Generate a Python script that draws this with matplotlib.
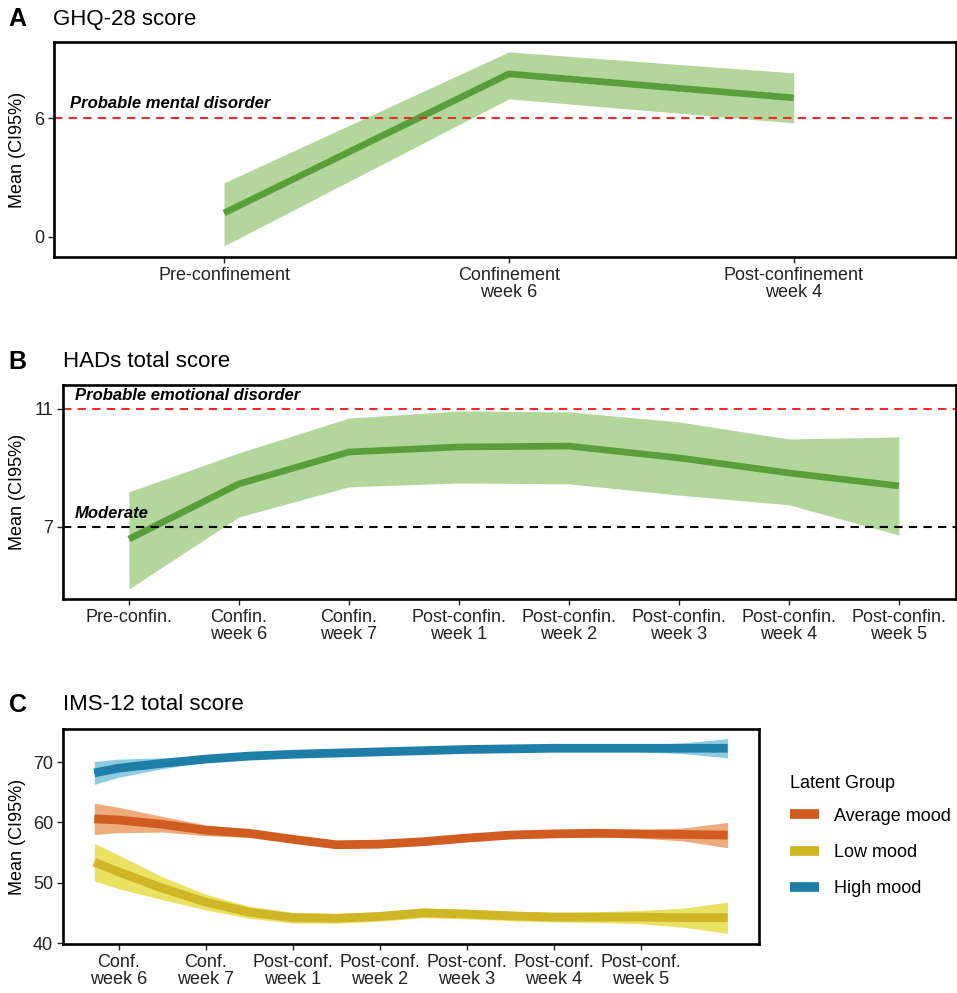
import matplotlib
matplotlib.use("Agg")
import matplotlib.pyplot as plt
from matplotlib.lines import Line2D
import numpy as np

plt.rcParams['font.family'] = ['Liberation Sans', 'DejaVu Sans']

# panel A: GHQ-28
ghq_labels = ["Pre-confinement", "Confinement\nweek 6", "Post-confinement\nweek 4"]
ghq_mean = [1.21, 8.23, 7.02]
ghq_low = [-0.45, 6.97, 5.76]
ghq_high = [2.73, 9.34, 8.28]

# panel B: HADs
hads_labels = ["Pre-confin.", "Confin.\nweek 6", "Confin.\nweek 7", "Post-confin.\nweek 1",
               "Post-confin.\nweek 2", "Post-confin.\nweek 3", "Post-confin.\nweek 4",
               "Post-confin.\nweek 5"]
hads_mean = [6.59, 8.46, 9.54, 9.71, 9.74, 9.34, 8.83, 8.39]
hads_low = [4.90, 7.34, 8.36, 8.49, 8.46, 8.08, 7.75, 6.73]
hads_high = [8.19, 9.51, 10.69, 10.93, 10.90, 10.56, 9.98, 10.05]

# panel C: IMS-12 by latent group (smoothed curves)
ims_labels = ["Conf.\nweek 6", "Conf.\nweek 7", "Post-conf.\nweek 1", "Post-conf.\nweek 2",
              "Post-conf.\nweek 3", "Post-conf.\nweek 4", "Post-conf.\nweek 5"]
ims_x = [0.72, 1.0, 1.5, 2.0, 2.5, 3.0, 3.5, 4.0, 4.5, 5.0, 5.5, 6.0, 6.5, 7.0, 7.5, 8.0]
high_mean = [68.2, 69.0, 69.8, 70.5, 71.0, 71.3, 71.5, 71.7, 71.9, 72.1, 72.2, 72.3, 72.3, 72.3, 72.3, 72.3]
high_hw = [1.9, 1.5, 0.9, 0.5, 0.35, 0.3, 0.3, 0.3, 0.3, 0.3, 0.3, 0.35, 0.45, 0.6, 0.9, 1.6]
avg_mean = [60.6, 60.4, 59.7, 58.7, 58.2, 57.2, 56.3, 56.4, 56.8, 57.4, 57.9, 58.1, 58.2, 58.1, 58.0, 57.9]
avg_hw = [2.6, 2.1, 1.3, 0.9, 0.7, 0.6, 0.6, 0.6, 0.6, 0.6, 0.6, 0.6, 0.6, 0.7, 1.1, 2.1]
low_mean = [53.4, 51.8, 49.1, 46.8, 45.1, 44.2, 44.1, 44.4, 45.0, 44.8, 44.5, 44.3, 44.3, 44.3, 44.2, 44.2]
low_hw = [3.1, 2.8, 1.9, 1.3, 1.0, 0.9, 0.8, 0.8, 0.8, 0.8, 0.8, 0.8, 0.9, 1.1, 1.6, 2.6]

groups = ["Average mood", "Low mood", "High mood"]
group_line = ["#d05c22", "#cfb626", "#1e7ea8"]
group_band = ["#eeac7e", "#ebe163", "#8dcde3"]

green_line = "#5a9e3c"
green_band = "#b3d69d"
red = "#ee2c2c"

fig = plt.figure(figsize=(9.57, 9.93), dpi=100)


def style_axes(ax):
    for s in ax.spines.values():
        s.set_linewidth(1.9)
        s.set_color("black")
    ax.tick_params(direction="out", length=4, width=1, labelsize=13, pad=3, colors="#222222")
    for t in ax.get_xticklabels():
        t.set_linespacing(1.0)


# ---- A
axA = fig.add_axes([0.0564, 0.7412, 0.9426, 0.2165])
xa = np.arange(1, len(ghq_labels) + 1)
axA.fill_between(xa, ghq_low, ghq_high, color=green_band, lw=0)
axA.plot(xa, ghq_mean, color=green_line, lw=4.8, solid_capstyle="butt")
axA.axhline(6, color=red, lw=1.5, ls=(0, (4, 3)))
axA.text(0.018, 6.5, "Probable mental disorder", transform=axA.get_yaxis_transform(),
         fontsize=12, fontweight="bold", fontstyle="italic", va="baseline")
axA.set_xlim(0.403, 3.57)
axA.set_ylim(-1.01, 9.84)
axA.set_xticks(xa)
axA.set_xticklabels(ghq_labels)
axA.set_yticks([0, 6])
axA.set_ylabel("Mean (CI95%)", fontsize=13)
axA.yaxis.set_label_coords(-0.031, 0.5)
style_axes(axA)

# ---- B
axB = fig.add_axes([0.0658, 0.3968, 0.9332, 0.2155])
xb = np.arange(1, len(hads_labels) + 1)
axB.fill_between(xb, hads_low, hads_high, color=green_band, lw=0)
axB.plot(xb, hads_mean, color=green_line, lw=4.8, solid_capstyle="butt")
axB.axhline(11, color=red, lw=1.5, ls=(0, (4, 3)))
axB.axhline(7, color="black", lw=1.5, ls=(0, (4, 3)))
axB.text(0.0134, 11.3, "Probable emotional disorder", transform=axB.get_yaxis_transform(),
         fontsize=12, fontweight="bold", fontstyle="italic", va="baseline")
axB.text(0.0134, 7.3, "Moderate", transform=axB.get_yaxis_transform(),
         fontsize=12, fontweight="bold", fontstyle="italic", va="baseline")
axB.set_xlim(0.4, 8.52)
axB.set_ylim(4.56, 11.81)
axB.set_xticks(xb)
axB.set_xticklabels(hads_labels)
axB.set_yticks([7, 11])
axB.set_ylabel("Mean (CI95%)", fontsize=13)
axB.yaxis.set_label_coords(-0.041, 0.5)
style_axes(axB)

# ---- C
axC = fig.add_axes([0.0658, 0.0493, 0.7272, 0.2166])
series = [(avg_mean, avg_hw), (low_mean, low_hw), (high_mean, high_hw)]
handles = []
for (m, hw), name, lc, bc in zip(series, groups, group_line, group_band):
    m = np.array(m)
    hw = np.array(hw)
    axC.fill_between(ims_x, m - hw, m + hw, color=bc, lw=0)
    axC.plot(ims_x, m, color=lc, lw=6.3, solid_capstyle="butt")
    handles.append(Line2D([], [], color=lc, lw=7, solid_capstyle="butt", label=name))
axC.set_xlim(0.36, 8.36)
axC.set_ylim(39.83, 75.5)
axC.set_xticks(np.arange(1, len(ims_labels) + 1))
axC.set_xticklabels(ims_labels)
axC.set_yticks([40, 50, 60, 70])
axC.set_ylabel("Mean (CI95%)", fontsize=13)
axC.yaxis.set_label_coords(-0.053, 0.5)
style_axes(axC)

leg = fig.legend(handles=handles, title="Latent Group", loc="upper left",
                 bbox_to_anchor=(0.826, 0.220), frameon=False, fontsize=13,
                 title_fontsize=13, handlelength=1.6, handletextpad=0.8,
                 labelspacing=1.07, borderpad=0, borderaxespad=0)
leg._legend_box.align = "left"
leg._legend_box.sep = 11.5

# panel letters and titles
for letter, title, xl, xt, yc in [("A", "GHQ-28 score", 0.009, 0.055, 1 - 19 / 993),
                                  ("B", "HADs total score", 0.009, 0.066, 1 - 362 / 993),
                                  ("C", "IMS-12 total score", 0.009, 0.066, 1 - 705 / 993)]:
    fig.text(xl, yc, letter, fontsize=18, fontweight="bold", va="center")
    fig.text(xt, yc, title, fontsize=16, va="center")

fig.savefig("out.png", dpi=100)
